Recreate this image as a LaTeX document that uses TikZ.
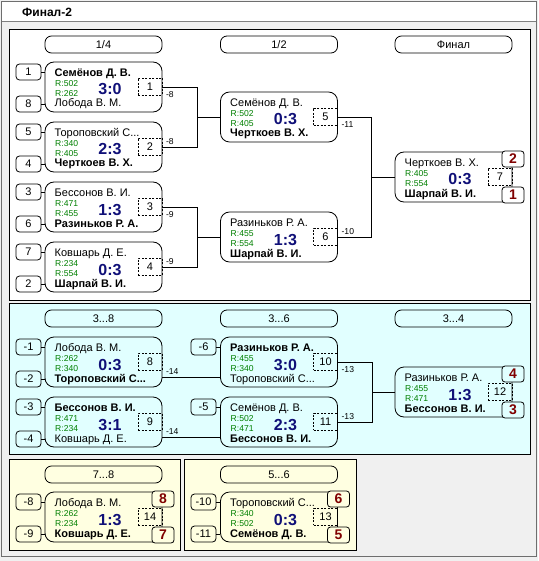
\documentclass[tikz,border=0pt]{standalone}
\usepackage{fontspec}
\setmainfont{Liberation Sans}
\definecolor{winbg}{RGB}{240,240,240}
\definecolor{cyanbg}{RGB}{225,255,255}
\definecolor{yelbg}{RGB}{255,255,225}
\definecolor{rgreen}{RGB}{0,128,0}
\definecolor{scblue}{RGB}{16,16,120}
\definecolor{plred}{RGB}{128,0,0}
\definecolor{framegray}{RGB}{110,110,110}
\newcommand\fnm{\fontsize{11}{13}\selectfont}
\newcommand\frt{\fontsize{8.6}{10}\selectfont}
\newcommand\fsc{\fontsize{16}{18}\selectfont}
\newcommand\fpl{\fontsize{14}{16}\selectfont}
\newcommand\MatchBox[9]{%
  \node[mbox] (#1) at ({#2+58.5},{#3+25}) {};
  \node[numbox] (#1k) at ({#2+105},{#3+24.5}) {#9};
  \node[nm] (#1a) at ({#2+9.5},{#3+14.5}) {#4};
  \node[rt] (#1b) at ({#2+10},{#3+24.5}) {#5};
  \node[rt] (#1c) at ({#2+10},{#3+34.5}) {#6};
  \node[nm] (#1d) at ({#2+9.5},{#3+45}) {#7};
  \node[sc] (#1s) at ({#2+65},{#3+33}) {#8};
}
\newcommand\SeedL[5]{%
  \node[seed] (#1) at (#2,#3) {#4};
  \draw[conn] (#1.east) -- (#1.east -| #5.west);
}
\begin{document}
\begin{tikzpicture}[x=1pt,y=-1pt,
  mbox/.style={draw, rounded corners=9pt, minimum width=117pt, minimum height=50pt, inner sep=0pt, line width=0.8pt},
  pill/.style={draw, rounded corners=6.5pt, minimum width=117pt, minimum height=17pt, inner sep=0pt, font=\fnm, line width=0.8pt},
  seed/.style={draw, rounded corners=3.5pt, minimum width=25pt, minimum height=16pt, inner sep=0pt, font=\fnm, line width=0.8pt},
  place/.style={draw, rounded corners=3pt, minimum width=22pt, minimum height=16pt, inner sep=0pt, font=\fpl\bfseries, text=plred, line width=0.8pt},
  numbox/.style={draw, dash pattern=on 2pt off 1.5pt, minimum width=24pt, minimum height=17pt, inner sep=0pt, font=\fnm, line width=0.7pt},
  nm/.style={font=\fnm, inner sep=0pt, anchor=base west},
  rt/.style={font=\frt, text=rgreen, inner sep=0pt, anchor=base west},
  sc/.style={font=\fsc\bfseries, text=scblue, inner sep=0pt, anchor=base},
  lbl/.style={font=\frt, inner sep=0pt, anchor=west},
  conn/.style={line width=0.8pt},
  panel/.style={draw, line width=0.8pt}
]
\useasboundingbox (0,0) rectangle (538,561);
% window
\fill[winbg] (0,0) rectangle (538,561);
\draw[framegray, line width=0.8pt] (1.5,1.5) rectangle (536.5,556.5);
\fill[white] (2,2) rectangle (536,21.5);
\draw[gray, line width=0.8pt] (2,21.5) -- (536,21.5);
\node[font=\fontsize{12}{14}\selectfont\bfseries, inner sep=0pt, anchor=base west] (title) at (22,17) {Финал-2};
% panels
\path[panel, fill=white] (9.5,29.5) rectangle (530.5,300.5);
\path[panel, fill=cyanbg] (9.5,303.5) rectangle (530.5,454.5);
\path[panel, fill=yelbg] (9.5,459.5) rectangle (180.5,550.5);
\path[panel, fill=yelbg] (184.5,459.5) rectangle (356.5,550.5);

% ===== top panel =====
\node[pill] (h1) at (103.5,44.5) {1/4};
\node[pill] (h2) at (279,44.5) {1/2};
\node[pill] (h3) at (453.5,44.5) {Финал};

\MatchBox{m1}{45}{62}{\bfseries Семёнов Д. В.}{R:502}{R:262}{Лобода В. М.}{3:0}{1}
\MatchBox{m2}{45}{122}{Тороповский С...}{R:340}{R:405}{\bfseries Черткоев В. Х.}{2:3}{2}
\MatchBox{m3}{45}{182}{Бессонов В. И.}{R:471}{R:455}{\bfseries Разиньков Р. А.}{1:3}{3}
\MatchBox{m4}{45}{242}{Ковшарь Д. Е.}{R:234}{R:554}{\bfseries Шарпай В. И.}{0:3}{4}
\MatchBox{m5}{220.5}{92}{Семёнов Д. В.}{R:502}{R:405}{\bfseries Черткоев В. Х.}{0:3}{5}
\MatchBox{m6}{220.5}{212}{Разиньков Р. А.}{R:455}{R:554}{\bfseries Шарпай В. И.}{1:3}{6}
\MatchBox{m7}{395}{152}{Черткоев В. Х.}{R:405}{R:554}{\bfseries Шарпай В. И.}{0:3}{7}

\SeedL{s1}{28.5}{72}{1}{m1}
\SeedL{s8}{28.5}{104}{8}{m1}
\SeedL{s5}{28.5}{132}{5}{m2}
\SeedL{s4}{28.5}{164}{4}{m2}
\SeedL{s3}{28.5}{192}{3}{m3}
\SeedL{s6}{28.5}{224}{6}{m3}
\SeedL{s7}{28.5}{252}{7}{m4}
\SeedL{s2}{28.5}{284}{2}{m4}

\coordinate (j1) at (197,117);
\coordinate (j2) at (197,237);
\coordinate (j3) at (371,177);
\draw[conn] (m1.east) -| (j1);
\draw[conn] (m2.east) -| (j1);
\draw[conn] (j1) -- (m5.west);
\draw[conn] (m3.east) -| (j2);
\draw[conn] (m4.east) -| (j2);
\draw[conn] (j2) -- (m6.west);
\draw[conn] (m5.east) -| (j3);
\draw[conn] (m6.east) -| (j3);
\draw[conn] (j3) -- (m7.west);
\node[lbl] (l1) at ([xshift=3.5pt,yshift=-7.5pt]m1.east) {-8};
\node[lbl] (l2) at ([xshift=3.5pt,yshift=5.5pt]m2.east) {-8};
\node[lbl] (l3) at ([xshift=3.5pt,yshift=-7.5pt]m3.east) {-9};
\node[lbl] (l4) at ([xshift=3.5pt,yshift=5.5pt]m4.east) {-9};
\node[lbl] (l5) at ([xshift=3.5pt,yshift=-7.5pt]m5.east) {-11};
\node[lbl] (l6) at ([xshift=3.5pt,yshift=5.5pt]m6.east) {-10};

\node[place, fill=white] (pf2) at (513,159) {2};
\node[place, fill=white] (pf1) at (513,195) {1};

% ===== middle panel =====
\node[pill] (h4) at (103.5,318.5) {3...8};
\node[pill] (h5) at (279,318.5) {3...6};
\node[pill] (h6) at (453.5,318.5) {3...4};

\MatchBox{m8}{45}{337}{Лобода В. М.}{R:262}{R:340}{\bfseries Тороповский С...}{0:3}{8}
\MatchBox{m9}{45}{397}{\bfseries Бессонов В. И.}{R:471}{R:234}{Ковшарь Д. Е.}{3:1}{9}
\MatchBox{m10}{220.5}{337}{\bfseries Разиньков Р. А.}{R:455}{R:340}{Тороповский С...}{3:0}{10}
\MatchBox{m11}{220.5}{397}{Семёнов Д. В.}{R:502}{R:471}{\bfseries Бессонов В. И.}{2:3}{11}
\MatchBox{m12}{395}{367}{Разиньков Р. А.}{R:455}{R:471}{\bfseries Бессонов В. И.}{1:3}{12}

\SeedL{sm1}{28.5}{347}{-1}{m8}
\SeedL{sm2}{28.5}{379}{-2}{m8}
\SeedL{sm3}{28.5}{407}{-3}{m9}
\SeedL{sm4}{28.5}{439}{-4}{m9}
\SeedL{sm6}{203.5}{347}{-6}{m10}
\SeedL{sm5}{203.5}{407}{-5}{m11}

\draw[conn] ([yshift=-15pt]m8.east) -- ([yshift=-15pt]m10.west);
\draw[conn] ([yshift=-15pt]m9.east) -- ([yshift=-15pt]m11.west);
\node[lbl] (l8) at ([xshift=3.5pt,yshift=-9.5pt]m8.east) {-14};
\node[lbl] (l9) at ([xshift=3.5pt,yshift=-9.5pt]m9.east) {-14};
\coordinate (j4) at (372,392);
\draw[conn] (m10.east) -| (j4);
\draw[conn] (m11.east) -| (j4);
\draw[conn] (j4) -- (m12.west);
\node[lbl] (l10) at ([xshift=3.5pt,yshift=-7.5pt]m10.east) {-13};
\node[lbl] (l11) at ([xshift=3.5pt,yshift=5.5pt]m11.east) {-13};

\node[place, fill=cyanbg] (pm4) at (513,374) {4};
\node[place, fill=cyanbg] (pm3) at (513,410) {3};

% ===== bottom panels =====
\node[pill] (h7) at (103.5,474.5) {7...8};
\node[pill] (h8) at (279,474.5) {5...6};

\MatchBox{m14}{45}{492}{Лобода В. М.}{R:262}{R:234}{\bfseries Ковшарь Д. Е.}{1:3}{14}
\MatchBox{m13}{220.5}{492}{Тороповский С...}{R:340}{R:502}{\bfseries Семёнов Д. В.}{0:3}{13}

\SeedL{sb8}{28.5}{502}{-8}{m14}
\SeedL{sb9}{28.5}{534}{-9}{m14}
\SeedL{sb10}{203.5}{502}{-10}{m13}
\SeedL{sb11}{203.5}{534}{-11}{m13}

\node[place, fill=yelbg] (pb8) at (163,499) {8};
\node[place, fill=yelbg] (pb7) at (163,535) {7};
\node[place, fill=yelbg] (pb6) at (338.5,499) {6};
\node[place, fill=yelbg] (pb5) at (338.5,535) {5};
\end{tikzpicture}
\end{document}
